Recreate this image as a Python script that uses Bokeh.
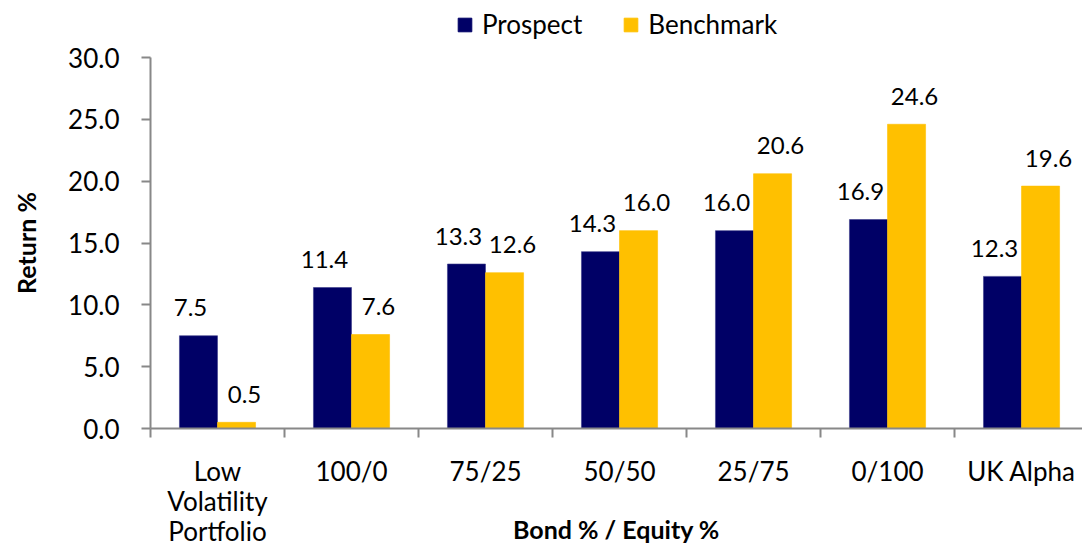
from bokeh.plotting import figure
from bokeh.layouts import column
from bokeh.models import (ColumnDataSource, FixedTicker, PrintfTickFormatter,
                          Range1d, Legend, LegendItem)
from bokeh.core.properties import value
from bokeh.embed import file_html
from bokeh.resources import INLINE

categories = ["Low\nVolatility\nPortfolio", "100/0", "75/25", "50/50", "25/75", "0/100", "UK Alpha"]
prospect = [7.5, 11.4, 13.3, 14.3, 16.0, 16.9, 12.3]
benchmark = [0.5, 7.6, 12.6, 16.0, 20.6, 24.6, 19.6]
y_ticks = [0, 5, 10, 15, 20, 25, 30]
series_names = ["Prospect", "Benchmark"]

PROSPECT_COLOR = "#000066"
BENCH_COLOR = "#FFC000"
FONT = "Lato"
AXIS_COLOR = "#888888"

n = len(categories)
centers = [i + 0.5 for i in range(n)]
bw = 0.284

src_p = ColumnDataSource(dict(x=[c - bw / 2 for c in centers], top=prospect,
                              lab=[f"{v:.1f}" for v in prospect]))
src_b = ColumnDataSource(dict(x=[c + bw / 2 for c in centers], top=benchmark,
                              lab=[f"{v:.1f}" for v in benchmark]))

# ---- legend strip (its view range shows no bars, only the legend) --------
LEG_H = 40
leg = figure(width=1082, height=LEG_H, output_backend="svg", toolbar_location=None,
             x_range=Range1d(100, 101), y_range=Range1d(100, 101),
             min_border_left=0, min_border_right=0, min_border_top=0,
             min_border_bottom=0)
leg.axis.visible = False
leg.grid.visible = False
leg.outline_line_color = None
lr_p = leg.vbar(x="x", top="top", width=bw, source=src_p,
                fill_color=PROSPECT_COLOR, line_color=PROSPECT_COLOR)
lr_b = leg.vbar(x="x", top="top", width=bw, source=src_b,
                fill_color=BENCH_COLOR, line_color=BENCH_COLOR)
legend = Legend(items=[LegendItem(label=series_names[0], renderers=[lr_p]),
                       LegendItem(label=series_names[1], renderers=[lr_b])],
                location=(306, 0), orientation="horizontal",
                glyph_width=17, glyph_height=17, label_standoff=9, spacing=40,
                padding=0, margin=0, border_line_color=None,
                background_fill_alpha=0,
                label_text_font=FONT, label_text_font_size="26px",
                label_text_color="black")
leg.add_layout(legend)

# ---- main chart ---------------------------------------------------------
p = figure(width=1082, height=547 - LEG_H, output_backend="svg", toolbar_location=None,
           x_range=Range1d(0, 6.955), y_range=Range1d(0, 30),
           min_border_left=150, min_border_right=0, min_border_top=57 - LEG_H,
           min_border_bottom=118)
p.outline_line_color = None
p.xgrid.grid_line_color = None
p.ygrid.grid_line_color = None
p.background_fill_color = "white"

p.vbar(x="x", top="top", width=bw, bottom=0, source=src_p,
       fill_color=PROSPECT_COLOR, line_color="#3a3a8a", line_width=0.6)
p.vbar(x="x", top="top", width=bw, bottom=0, source=src_b,
       fill_color=BENCH_COLOR, line_color=BENCH_COLOR, line_width=0.6)

p.text(x="x", y="top", text="lab", source=src_p, text_align="center",
       text_baseline="alphabetic", y_offset=-28, x_offset=-8,
       text_font=value(FONT), text_font_size="24px", text_color="black")
p.text(x="x", y="top", text="lab", source=src_b, text_align="center",
       text_baseline="alphabetic", y_offset=-28, x_offset=8,
       text_font=value(FONT), text_font_size="24px", text_color="black")

# x axis
xa = p.xaxis[0]
xa.ticker = FixedTicker(ticks=centers, minor_ticks=list(range(n + 1)))
xa.major_label_overrides = {c: lab for c, lab in zip(centers, categories)}
xa.major_tick_out = 0
xa.major_tick_in = 0
xa.minor_tick_out = 9
xa.minor_tick_in = 0
xa.minor_tick_line_color = AXIS_COLOR
xa.minor_tick_line_width = 2
xa.axis_line_color = AXIS_COLOR
xa.axis_line_width = 2
xa.major_label_text_font = FONT
xa.major_label_text_font_size = "26px"
xa.major_label_text_color = "black"
xa.major_label_text_line_height = 0.95
xa.major_label_standoff = 17
xa.axis_label = "Bond % / Equity %"
xa.axis_label_text_font = FONT
xa.axis_label_text_font_style = "bold"
xa.axis_label_text_font_size = "25px"
xa.axis_label_text_color = "black"
xa.axis_label_standoff = -36

# y axis
ya = p.yaxis[0]
ya.ticker = FixedTicker(ticks=y_ticks)
ya.formatter = PrintfTickFormatter(format="%.1f")
ya.major_tick_out = 9
ya.major_tick_in = 0
ya.minor_tick_out = 0
ya.minor_tick_in = 0
ya.major_tick_line_color = AXIS_COLOR
ya.major_tick_line_width = 2
ya.axis_line_color = AXIS_COLOR
ya.axis_line_width = 2
ya.major_label_text_font = FONT
ya.major_label_text_font_size = "26px"
ya.major_label_text_color = "black"
ya.major_label_standoff = 22
ya.axis_label = "Return %"
ya.axis_label_text_font = FONT
ya.axis_label_text_font_style = "bold"
ya.axis_label_text_font_size = "25px"
ya.axis_label_text_color = "black"
ya.axis_label_standoff = 24

layout = column(leg, p, spacing=0)
open("out.html", "w").write(file_html(layout, INLINE))
